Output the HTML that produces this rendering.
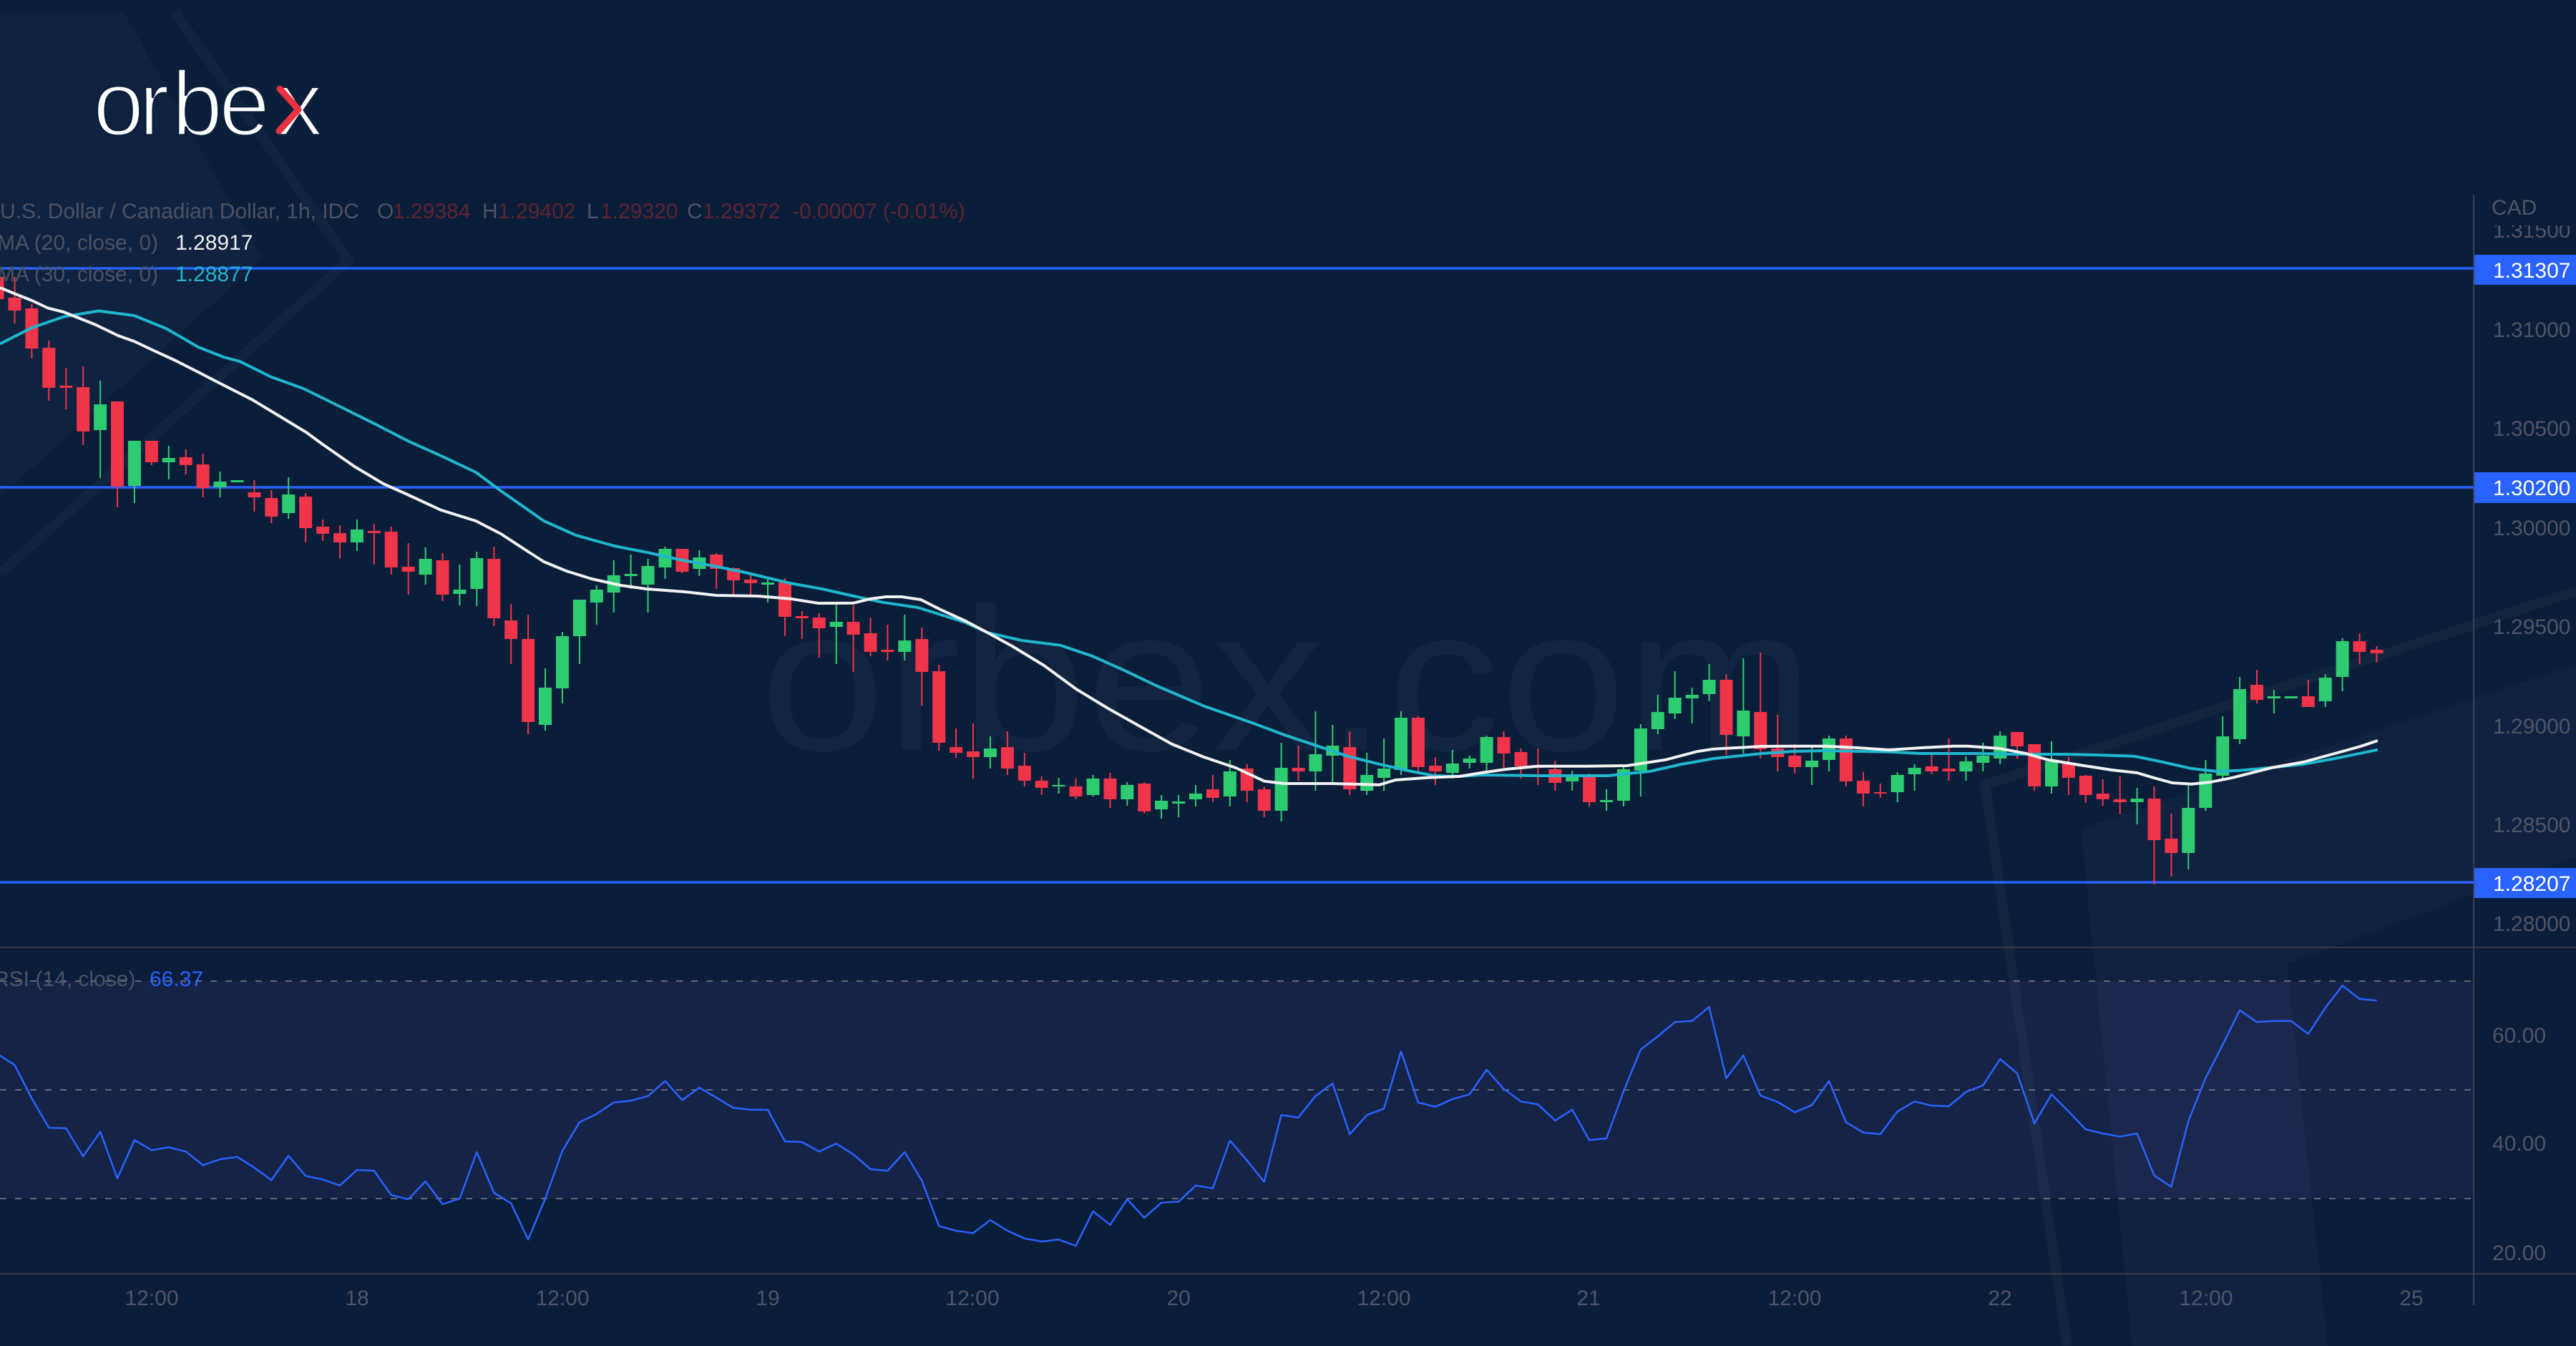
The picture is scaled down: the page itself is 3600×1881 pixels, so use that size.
<!DOCTYPE html>
<html><head><meta charset="utf-8"><style>
html,body{margin:0;padding:0;background:#0a1d39;}
svg{display:block;}
text{font-family:"Liberation Sans",sans-serif;}
</style></head><body>
<svg width="3600" height="1881" viewBox="0 0 3600 1881" xmlns="http://www.w3.org/2000/svg">
<rect x="0" y="0" width="3600" height="1881" fill="#0a1d39"/>
<!-- background decorations -->
<polygon points="0,18 174,18 366,362 0,695" fill="#0f223f"/>
<polyline points="245,18 487,364 0,802" fill="none" stroke="#10233f" stroke-width="14"/>
<polygon points="2908,1158 3600,928 3600,1197 3196,1347 3253,1881 2980,1881" fill="#10223f"/>
<polyline points="2889,1881 2774,1097 3600,826" fill="none" stroke="#12253f" stroke-width="14"/>
<!-- RSI band -->
<rect x="0" y="1371" width="3457" height="304" fill="rgba(126,87,194,0.1)"/>
<!-- watermark -->
<text x="1062" y="1048" font-size="285" fill="#12243f" textLength="1473" lengthAdjust="spacingAndGlyphs">orbex.com</text>
<!-- separators -->
<line x1="0" y1="1324" x2="3600" y2="1324" stroke="#363b47" stroke-width="2"/>
<line x1="0" y1="1780" x2="3600" y2="1780" stroke="#363b47" stroke-width="2"/>
<line x1="3457" y1="272" x2="3457" y2="1824" stroke="#3a404c" stroke-width="2"/>
<!-- RSI dashed -->
<g stroke="#787b86" stroke-opacity="0.8" stroke-width="2" stroke-dasharray="9 12">
<line x1="0" y1="1371" x2="3457" y2="1371"/>
<line x1="0" y1="1523" x2="3457" y2="1523"/>
<line x1="0" y1="1675" x2="3457" y2="1675"/>
</g>
<!-- horizontal levels -->
<g stroke="#2962ff" stroke-width="3.5">
<line x1="0" y1="375" x2="3457" y2="375"/>
<line x1="0" y1="681" x2="3457" y2="681"/>
<line x1="0" y1="1233" x2="3457" y2="1233"/>
</g>
<!-- candles -->
<path stroke="#f0344a" stroke-width="2" fill="none" d="M-3.4 375V425 M20.5 387V452 M44.4 425V501 M68.3 476V560 M92.3 514V572 M116.2 512V622 M164 561V709 M211.9 616V650 M259.7 628V663 M283.6 634V695 M355.4 671V715 M379.3 685V731 M427.1 689V758 M451.1 726V756 M475 734V780 M522.8 732V789 M546.7 736V803 M570.7 759V831 M618.5 773V840 M690.3 764V875 M714.2 844V928 M738.1 859V1026 M953.4 767V801 M1001.2 773V823 M1025.1 793V832 M1049.1 804V834 M1096.9 808V889 M1120.8 854V893 M1144.7 857V919 M1192.6 846V939 M1216.5 863V917 M1240.4 873V923 M1288.3 877V986 M1312.2 929V1049 M1336.1 1018V1059 M1360 1011V1088 M1407.9 1022V1083 M1431.8 1052V1099 M1455.7 1085V1111 M1503.5 1088V1117 M1551.4 1080V1129 M1599.2 1093V1137 M1694.9 1083V1121 M1742.7 1068V1121 M1766.7 1099V1142 M1814.5 1042V1091 M1886.3 1022V1111 M1981.9 1001V1082 M2005.9 1058V1097 M2101.5 1022V1073 M2125.5 1046V1088 M2149.4 1046V1097 M2173.3 1063V1105 M2221.1 1081V1127 M2412.5 942V1055 M2460.3 912V1060 M2484.3 999V1078 M2508.2 1040V1081 M2579.9 1028V1099 M2603.9 1079V1127 M2627.8 1095V1115 M2699.5 1052V1082 M2723.5 1032V1091 M2819.1 1023V1060 M2843.1 1040V1105 M2890.9 1058V1111 M2914.8 1083V1122 M2938.7 1089V1126 M2962.7 1085V1138 M3010.5 1099V1236 M3034.4 1137V1225 M3154 936V983 M3225.8 950V988 M3297.5 885V928 M3321.5 903V926"/>
<path fill="#f0344a" d="M-12.4 387h18V418h-18z M11.5 416h18V434h-18z M35.4 431h18V487h-18z M59.3 486h18V542h-18z M83.3 539h18V542h-18z M107.2 541h18V603h-18z M155 561h18V680h-18z M202.9 616h18V646h-18z M250.7 639h18V650h-18z M274.6 649h18V682h-18z M346.4 688h18V695h-18z M370.3 696h18V722h-18z M418.1 694h18V738h-18z M442.1 736h18V746h-18z M466 745h18V758h-18z M513.8 742h18V745h-18z M537.7 743h18V793h-18z M561.7 792h18V799h-18z M609.5 783h18V831h-18z M681.3 781h18V864h-18z M705.2 867h18V893h-18z M729.1 893h18V1009h-18z M944.4 767h18V799h-18z M992.2 775h18V795h-18z M1016.1 794h18V811h-18z M1040.1 810h18V815h-18z M1087.9 814h18V862h-18z M1111.8 861h18V864h-18z M1135.7 863h18V878h-18z M1183.6 869h18V887h-18z M1207.5 885h18V911h-18z M1231.4 908h18V911h-18z M1279.3 893h18V939h-18z M1303.2 938h18V1038h-18z M1327.1 1044h18V1052h-18z M1351 1050h18V1058h-18z M1398.9 1044h18V1074h-18z M1422.8 1070h18V1091h-18z M1446.7 1091h18V1101h-18z M1494.5 1099h18V1113h-18z M1542.4 1088h18V1117h-18z M1590.2 1095h18V1134h-18z M1685.9 1103h18V1115h-18z M1733.7 1074h18V1105h-18z M1757.7 1103h18V1133h-18z M1805.5 1073h18V1078h-18z M1877.3 1044h18V1103h-18z M1972.9 1003h18V1072h-18z M1996.9 1070h18V1078h-18z M2092.5 1030h18V1053h-18z M2116.5 1051h18V1071h-18z M2140.4 1069h18V1073h-18z M2164.3 1075h18V1094h-18z M2212.1 1083h18V1121h-18z M2403.5 950h18V1027h-18z M2451.3 995h18V1047h-18z M2475.3 1046h18V1058h-18z M2499.2 1056h18V1072h-18z M2570.9 1032h18V1092h-18z M2594.9 1091h18V1109h-18z M2618.8 1107h18V1109h-18z M2690.5 1071h18V1078h-18z M2714.5 1074h18V1078h-18z M2810.1 1023h18V1043h-18z M2834.1 1040h18V1099h-18z M2881.9 1066h18V1087h-18z M2905.8 1084h18V1111h-18z M2929.7 1109h18V1117h-18z M2953.7 1117h18V1121h-18z M3001.5 1116h18V1174h-18z M3025.4 1172h18V1192h-18z M3145 957h18V978h-18z M3216.8 973h18V988h-18z M3288.5 896h18V911h-18z M3312.5 908h18V913h-18z"/>
<path stroke="#2ecc71" stroke-width="2" fill="none" d="M140.1 532V668 M187.9 616V703 M235.8 623V670 M307.5 659V695 M331.5 671V674 M403.2 667V725 M498.9 726V770 M594.6 765V817 M642.4 789V846 M666.3 771V847 M762 934V1021 M785.9 883V983 M809.9 838V928 M833.8 818V873 M857.7 783V856 M881.6 775V823 M905.5 781V856 M929.5 764V809 M977.3 769V805 M1073 806V842 M1168.7 845V928 M1264.3 859V923 M1383.9 1029V1074 M1479.6 1087V1109 M1527.5 1083V1113 M1575.3 1093V1126 M1623.1 1111V1144 M1647.1 1111V1142 M1671 1097V1127 M1718.8 1062V1127 M1790.6 1038V1148 M1838.4 994V1105 M1862.3 1013V1097 M1910.2 1052V1111 M1934.1 1032V1105 M1958 994V1083 M2029.8 1048V1088 M2053.7 1056V1074 M2077.6 1028V1080 M2197.2 1077V1105 M2245.1 1103V1133 M2269 1071V1127 M2292.9 1012V1113 M2316.8 971V1026 M2340.7 938V1005 M2364.7 961V1011 M2388.6 928V980 M2436.4 920V1053 M2532.1 1044V1097 M2556 1028V1078 M2651.7 1079V1121 M2675.6 1068V1105 M2747.4 1057V1091 M2771.3 1038V1078 M2795.2 1022V1068 M2867 1036V1109 M2986.6 1101V1152 M3058.3 1095V1215 M3082.3 1062V1133 M3106.2 1001V1091 M3130.1 946V1040 M3177.9 964V997 M3201.9 973V976 M3249.7 942V988 M3273.6 892V966"/>
<path fill="#2ecc71" d="M131.1 565h18V601h-18z M178.9 616h18V679h-18z M226.8 640h18V646h-18z M298.5 673h18V681h-18z M322.5 671h18V674h-18z M394.2 691h18V717h-18z M489.9 740h18V758h-18z M585.6 781h18V803h-18z M633.4 824h18V830h-18z M657.3 780h18V823h-18z M753 961h18V1013h-18z M776.9 889h18V962h-18z M800.9 838h18V889h-18z M824.8 824h18V842h-18z M848.7 804h18V828h-18z M872.6 802h18V805h-18z M896.5 791h18V817h-18z M920.5 767h18V793h-18z M968.3 779h18V795h-18z M1064 814h18V817h-18z M1159.7 869h18V876h-18z M1255.3 895h18V911h-18z M1374.9 1046h18V1058h-18z M1470.6 1097h18V1099h-18z M1518.5 1088h18V1111h-18z M1566.3 1097h18V1117h-18z M1614.1 1119h18V1131h-18z M1638.1 1120h18V1123h-18z M1662 1109h18V1117h-18z M1709.8 1078h18V1113h-18z M1781.6 1073h18V1133h-18z M1829.4 1054h18V1078h-18z M1853.3 1042h18V1056h-18z M1901.2 1083h18V1105h-18z M1925.1 1074h18V1087h-18z M1949 1003h18V1076h-18z M2020.8 1067h18V1080h-18z M2044.7 1060h18V1066h-18z M2068.6 1030h18V1066h-18z M2188.2 1083h18V1092h-18z M2236.1 1118h18V1121h-18z M2260 1075h18V1119h-18z M2283.9 1018h18V1077h-18z M2307.8 995h18V1019h-18z M2331.7 975h18V997h-18z M2355.7 971h18V976h-18z M2379.6 950h18V970h-18z M2427.4 993h18V1029h-18z M2523.1 1063h18V1072h-18z M2547 1032h18V1062h-18z M2642.7 1083h18V1107h-18z M2666.6 1073h18V1082h-18z M2738.4 1064h18V1078h-18z M2762.3 1056h18V1066h-18z M2786.2 1028h18V1060h-18z M2858 1064h18V1099h-18z M2977.6 1116h18V1121h-18z M3049.3 1129h18V1192h-18z M3073.3 1081h18V1129h-18z M3097.2 1029h18V1084h-18z M3121.1 963h18V1033h-18z M3168.9 973h18V976h-18z M3192.9 973h18V976h-18z M3240.7 947h18V980h-18z M3264.6 896h18V946h-18z"/>
<!-- MA30 cyan -->
<polyline fill="none" stroke="#1fb6cf" stroke-width="4" stroke-linejoin="round" points="0,480.5 44.6,458 89,442.6 138,434.5 187.5,441 232,459 277,485 312.5,499 335,505 379.5,527 424,543 468.75,565 527,594 571,616.7 616,636.8 665,660 700,686 720,700 760,728 805,748 858.6,763 903,771.7 948,781.7 1001,791.7 1037,799 1104,815 1148.75,823 1193,833 1233.6,841.7 1282.7,849 1318,860 1349.6,870 1380,884 1428,895 1481.6,901.7 1526,916.7 1571,936.7 1615.5,958 1682.5,986.7 1749.5,1010 1794,1026.7 1838.75,1041.7 1883,1056.7 1928,1068 1972.7,1078 2004,1084 2039.6,1085 2070,1083 2149,1084 2247.5,1084 2305.5,1078 2350,1068 2395,1060 2462,1053 2506,1050 2551,1049 2640,1050.7 2685,1053 2760,1053 2817,1054 2884,1054 2928.6,1055 2982,1056.7 3018,1064 3062.5,1074 3098,1078 3129.5,1076.7 3174,1072.7 3218.75,1068 3263,1060 3299,1052.7 3322.8,1047.7"/>
<!-- MA20 white -->
<polyline fill="none" stroke="#f2f2f2" stroke-width="4" stroke-linejoin="round" points="0,402 22,411 44.6,420 67,430.5 89,436 111.6,445 134,454 165,469 187.5,477 214,489.5 245.5,504 277,520 308,536 352.7,558.7 393,583 428.6,604.6 451,621 495.5,652 535.7,676 567,690 616,712.7 665,728 700,746 733.6,768 760,785 791.6,798 827,809 867.5,818 903,823 956.8,827 1001,832 1059,833 1104,836.7 1144,843 1193,842.7 1215.7,837 1238,834 1260,834 1287,838 1314,851.7 1349.6,868 1380,884 1414.6,903 1459,930 1504,963 1548.6,990 1593,1015 1638,1040 1682.5,1058 1727,1073 1767,1091.7 1794,1095 1861,1095 1928,1096.7 1950,1090 1995,1086.7 2039.6,1085 2070,1080 2104.6,1075 2149,1070.7 2216,1070.7 2274,1070 2328,1061.7 2372.5,1050 2395,1046.7 2462,1043 2506,1042.7 2551,1042.7 2596,1045 2640,1048 2685,1045 2729.6,1042.7 2750,1042.7 2794.6,1046 2830,1052.7 2861.6,1061.7 2906,1069 2951,1076 2986.6,1080 3009,1086.7 3035.7,1094 3062.5,1095.7 3089,1093 3120.5,1086.7 3174,1073 3218.75,1065 3263,1053 3299,1043 3322.8,1035"/>
<!-- RSI line -->
<polyline fill="none" stroke="#2962ff" stroke-width="2.5" stroke-linejoin="round" points="-3.4,1473 20.5,1488.3 44.4,1535 68.3,1576 92.3,1576.7 116.2,1616 140.1,1581.7 164,1646.7 187.9,1593.3 211.9,1607.3 235.8,1603.3 259.7,1609.3 283.6,1628.3 307.5,1620 331.5,1616.7 355.4,1631.7 379.3,1649.3 403.2,1615 427.1,1643.3 451.1,1648.3 475,1656.7 498.9,1635 522.8,1636 546.7,1670 570.7,1676 594.6,1651 618.5,1682.7 642.4,1675 666.3,1610 690.3,1666.7 714.2,1681.7 738.1,1732.3 762,1675 785.9,1608.3 809.9,1568.3 833.8,1556.7 857.7,1540.7 881.6,1538.3 905.5,1531.7 929.5,1510.7 953.4,1537.3 977.3,1520 1001.2,1534 1025.1,1548.3 1049.1,1550.7 1073,1551 1096.9,1595 1120.8,1596 1144.7,1609.3 1168.7,1598.3 1192.6,1613.3 1216.5,1634 1240.4,1636 1264.3,1610 1288.3,1650 1312.2,1713.3 1336.1,1720 1360,1723.3 1383.9,1705 1407.9,1720 1431.8,1730.7 1455.7,1735 1479.6,1732.3 1503.5,1741 1527.5,1692.7 1551.4,1711.7 1575.3,1676 1599.2,1701.7 1623.1,1680.7 1647.1,1679.3 1671,1656.7 1694.9,1660.7 1718.8,1594 1742.7,1621.7 1766.7,1651.7 1790.6,1558.3 1814.5,1561.7 1838.4,1531.7 1862.3,1514.3 1886.3,1585 1910.2,1558.3 1934.1,1549.3 1958,1469.3 1981.9,1540.7 2005.9,1546.7 2029.8,1536 2053.7,1529.3 2077.6,1495 2101.5,1521.7 2125.5,1539.3 2149.4,1543.3 2173.3,1566 2197.2,1550.7 2221.1,1593.3 2245.1,1590.7 2269,1525 2292.9,1466.7 2316.8,1448.3 2340.7,1428.3 2364.7,1426.7 2388.6,1407.3 2412.5,1506.7 2436.4,1475 2460.3,1531 2484.3,1540 2508.2,1554.3 2532.1,1544.3 2556,1510.7 2579.9,1568.3 2603.9,1582.7 2627.8,1585 2651.7,1553.3 2675.6,1539.3 2699.5,1545 2723.5,1546 2747.4,1526 2771.3,1516.7 2795.2,1480 2819.1,1500 2843.1,1570 2867,1529.3 2890.9,1553.3 2914.8,1578.3 2938.7,1584 2962.7,1588.3 2986.6,1584 3010.5,1642.7 3034.4,1658.3 3058.3,1566.7 3082.3,1506.7 3106.2,1460 3130.1,1411.7 3154,1428.3 3177.9,1426.7 3201.9,1426.7 3225.8,1445 3249.7,1408.3 3273.6,1377.3 3297.5,1396 3321.5,1398.3"/>
<!-- price axis -->
<g font-size="30" fill="#4f5566">
<text x="3484" y="332">1.31500</text>
</g>
<rect x="3459" y="272" width="141" height="43" fill="#0a1d39"/>
<g font-size="30" fill="#4f5566">
<text x="3482" y="300">CAD</text>
<text x="3484" y="471">1.31000</text>
<text x="3484" y="609">1.30500</text>
<text x="3484" y="748">1.30000</text>
<text x="3484" y="886">1.29500</text>
<text x="3484" y="1025">1.29000</text>
<text x="3484" y="1163">1.28500</text>
<text x="3484" y="1301">1.28000</text>
<text x="3483" y="1457">60.00</text>
<text x="3483" y="1608">40.00</text>
<text x="3483" y="1761">20.00</text>
</g>
<g fill="#2962ff">
<rect x="3458" y="356" width="142" height="42"/>
<rect x="3458" y="660" width="142" height="43"/>
<rect x="3458" y="1213" width="142" height="42"/>
</g>
<g font-size="30" fill="#ffffff">
<text x="3484" y="388">1.31307</text>
<text x="3484" y="692">1.30200</text>
<text x="3484" y="1245">1.28207</text>
</g>
<!-- time axis -->
<g font-size="30" fill="#4f5566" text-anchor="middle">
<text x="212" y="1824">12:00</text>
<text x="499" y="1824">18</text>
<text x="786" y="1824">12:00</text>
<text x="1073" y="1824">19</text>
<text x="1359" y="1824">12:00</text>
<text x="1647" y="1824">20</text>
<text x="1934" y="1824">12:00</text>
<text x="2220" y="1824">21</text>
<text x="2508" y="1824">12:00</text>
<text x="2795" y="1824">22</text>
<text x="3083" y="1824">12:00</text>
<text x="3370" y="1824">25</text>
</g>
<!-- legend -->
<g font-size="30">
<text x="0" y="305" fill="#4c5262">U.S. Dollar / Canadian Dollar, 1h, IDC</text>
<text x="527" y="305" fill="#4c5262">O</text>
<text x="549" y="305" fill="#5e2331">1.29384</text>
<text x="674" y="305" fill="#4c5262">H</text>
<text x="696" y="305" fill="#5e2331">1.29402</text>
<text x="820" y="305" fill="#4c5262">L</text>
<text x="839" y="305" fill="#5e2331">1.29320</text>
<text x="960" y="305" fill="#4c5262">C</text>
<text x="982" y="305" fill="#5e2331">1.29372</text>
<text x="1107" y="305" fill="#5e2331">-0.00007 (-0.01%)</text>
<text x="-4" y="349" fill="#4c5262">MA (20, close, 0)</text>
<text x="245" y="349" fill="#eeeeee">1.28917</text>
<text x="-4" y="393" fill="#4c5262">MA (30, close, 0)</text>
<text x="245" y="393" fill="#22b5cd">1.28877</text>
<text x="-9" y="1378" fill="#4c5262">RSI (14, close)</text>
<text x="209" y="1378" fill="#2962ff">66.37</text>
</g>
<!-- logo -->
<text x="130 194 240 306 387" y="189" font-size="128" fill="#ffffff" stroke="#0c1f3b" stroke-width="3.5">orbex</text>
<polyline points="391,124 417,153 390,183" fill="none" stroke="#e8323f" stroke-width="9" stroke-linecap="round" stroke-linejoin="round"/>
</svg>
</body></html>
